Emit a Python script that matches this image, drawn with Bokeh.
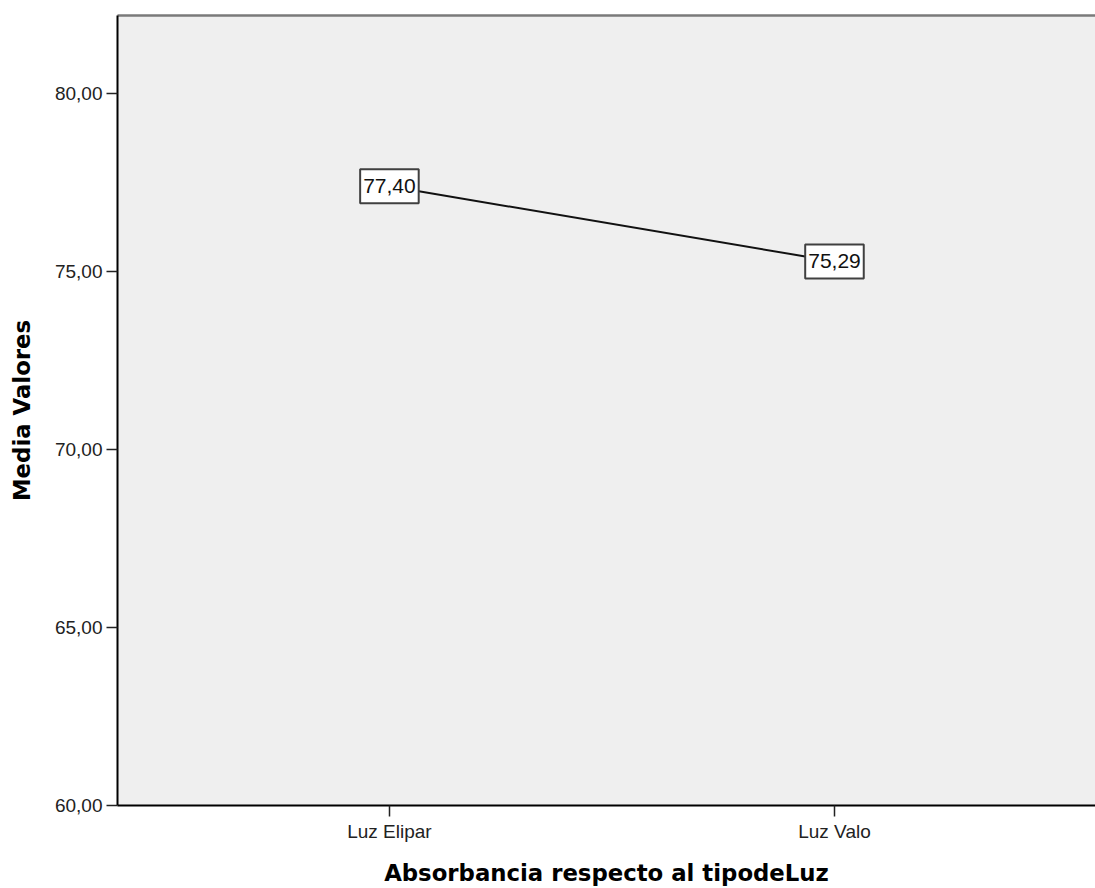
from bokeh.plotting import figure
from bokeh.models import (ColumnDataSource, FixedTicker, LinearAxis,
                          CustomJSTickFormatter, Range1d)
from bokeh.core.properties import value
from bokeh.embed import file_html
from bokeh.resources import INLINE

# ---- data ----
categories = ["Luz Elipar", "Luz Valo"]
means = [77.40, 75.29]
y_ticks = [60, 65, 70, 75, 80]
x_title = "Absorbancia respecto al tipodeLuz"
y_title = "Media Valores"

xs = list(range(len(categories)))
labels = [f"{v:.2f}".replace(".", ",") for v in means]
src = ColumnDataSource(dict(x=xs, y=means, label=labels))

p = figure(width=1095, height=888, output_backend="svg", toolbar_location=None,
           x_range=Range1d(-0.611, 1.5865), y_range=Range1d(60, 82.2),
           min_border_left=117, min_border_right=0, min_border_top=15,
           min_border_bottom=83)

p.background_fill_color = "#efefef"
p.border_fill_color = "white"
p.outline_line_color = None
p.xgrid.visible = False
p.ygrid.visible = False

tick_font = "Liberation Sans"
title_font = "DejaVu Sans"

# y axis
ya = p.yaxis[0]
ya.ticker = FixedTicker(ticks=y_ticks)
ya.formatter = CustomJSTickFormatter(code="return tick.toFixed(2).replace('.', ',');")
ya.axis_line_color = "black"
ya.axis_line_width = 2
ya.major_tick_line_color = "#222222"
ya.major_tick_line_width = 1.5
ya.major_tick_out = 11
ya.major_tick_in = 0
ya.minor_tick_line_color = None
ya.major_label_text_font = tick_font
ya.major_label_text_font_size = "19px"
ya.major_label_text_color = "#222222"
ya.major_label_standoff = 4
ya.axis_label = y_title
ya.axis_label_text_font = title_font
ya.axis_label_text_font_style = "bold"
ya.axis_label_text_font_size = "22.8px"
ya.axis_label_text_color = "black"
ya.axis_label_standoff = 17

# x axis
xa = p.xaxis[0]
xa.ticker = FixedTicker(ticks=xs)
xa.formatter = CustomJSTickFormatter(args=dict(cats=categories),
                                     code="const i = Math.round(tick); return (i >= 0 && i < cats.length) ? cats[i] : '';")
xa.axis_line_color = "black"
xa.axis_line_width = 2
xa.major_tick_line_color = "#222222"
xa.major_tick_line_width = 1.5
xa.major_tick_out = 11
xa.major_tick_in = 0
xa.minor_tick_line_color = None
xa.major_label_text_font = tick_font
xa.major_label_text_font_size = "19px"
xa.major_label_text_color = "#222222"
xa.major_label_standoff = 4
xa.axis_label = x_title
xa.axis_label_text_font = title_font
xa.axis_label_text_font_style = "bold"
xa.axis_label_text_font_size = "22.8px"
xa.axis_label_text_color = "black"
xa.axis_label_standoff = 15

# top border line
top = LinearAxis(ticker=FixedTicker(ticks=[]), major_label_text_font_size="0px",
                 major_tick_out=0, major_tick_in=0, minor_tick_out=0, minor_tick_in=0,
                 axis_line_color="#7a7a7a", axis_line_width=2.5)
p.add_layout(top, "above")

# data line and boxed labels
p.line(x="x", y="y", source=src, line_color="#111111", line_width=2)
p.text(x="x", y="y", text="label", source=src, text_align="center",
       text_baseline="middle", text_font=value(tick_font), text_font_size="21px",
       text_color="#111111", background_fill_color="white",
       border_line_color="#404040", border_line_width=2,
       padding=dict(left=3, right=3, top=10, bottom=10))

open("out.html", "w").write(file_html(p, INLINE))
